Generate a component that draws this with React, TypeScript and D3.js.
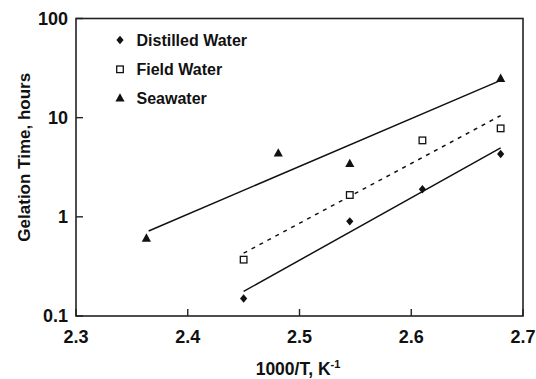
import React from 'react'
import * as d3 from 'd3'

// measured points (1000/T, gelation time in hours)
const distilledX = [2.45, 2.545, 2.61, 2.68]
const distilledY = [0.15, 0.9, 1.9, 4.3]
const fieldX = [2.45, 2.545, 2.61, 2.68]
const fieldY = [0.37, 1.66, 5.9, 7.8]
const seaX = [2.363, 2.481, 2.545, 2.68]
const seaY = [0.61, 4.4, 3.45, 24.9]

// fitted trend lines, end points
const distilledFitX = [2.45, 2.68]
const distilledFitY = [0.177, 4.95]
const fieldFitX = [2.45, 2.68]
const fieldFitY = [0.43, 10.5]
const seaFitX = [2.365, 2.68]
const seaFitY = [0.72, 23.8]

const xTicks = [2.3, 2.4, 2.5, 2.6, 2.7]
const yTicks = [0.1, 1, 10, 100]
const legendLabels = ['Distilled Water', 'Field Water', 'Seawater']

const W = 536
const H = 379
const FONT = '"Liberation Sans", Arial, Helvetica, sans-serif'
const INK = '#111'

export default function App() {
  const left = 76
  const right = 523
  const top = 18.5
  const bottom = 316

  const x = d3.scaleLinear().domain([2.3, 2.7]).range([left, right])
  const y = d3.scaleLog().domain([0.1, 100]).range([bottom, top])

  const line = d3
    .line<[number, number]>()
    .x(d => x(d[0]))
    .y(d => y(d[1]))

  const pairs = (xs: number[], ys: number[]) => xs.map((v, i) => [v, ys[i]] as [number, number])

  const diamond = (cx: number, cy: number, key: any) => (
    <path
      key={key}
      d={`M${cx},${cy - 4.2}L${cx + 3.6},${cy}L${cx},${cy + 4.2}L${cx - 3.6},${cy}Z`}
      fill={INK}
    />
  )
  const square = (cx: number, cy: number, key: any) => (
    <rect key={key} x={cx - 3.3} y={cy - 3.3} width={6.6} height={6.6} fill="#fff" stroke={INK} strokeWidth={1.3} />
  )
  const triangle = (cx: number, cy: number, key: any) => (
    <path key={key} d={`M${cx},${cy - 4.8}L${cx + 4.6},${cy + 3.6}L${cx - 4.6},${cy + 3.6}Z`} fill={INK} />
  )

  const legendMarks = [diamond, square, triangle]
  const legendY = [40, 69.3, 98]

  return (
    <svg
      width={W}
      height={H}
      style={{position: 'absolute', left: 0, top: 0, background: '#fff'}}
      fontFamily={FONT}
      fontWeight="bold"
    >
      <rect x={0} y={0} width={W} height={H} fill="#fff" />

      {/* fit lines */}
      <path d={line(pairs(seaFitX, seaFitY)) || ''} fill="none" stroke={INK} strokeWidth={1.5} />
      <path
        d={line(pairs(fieldFitX, fieldFitY)) || ''}
        fill="none"
        stroke={INK}
        strokeWidth={1.5}
        strokeDasharray="4,5"
      />
      <path d={line(pairs(distilledFitX, distilledFitY)) || ''} fill="none" stroke={INK} strokeWidth={1.5} />

      {/* data points */}
      {distilledX.map((v, i) => diamond(x(v), y(distilledY[i]), 'd' + i))}
      {fieldX.map((v, i) => square(x(v), y(fieldY[i]), 'f' + i))}
      {seaX.map((v, i) => triangle(x(v), y(seaY[i]), 's' + i))}

      {/* frame */}
      <rect x={left} y={top} width={right - left} height={bottom - top} fill="none" stroke="#222" strokeWidth={1.6} />

      {/* x axis */}
      {xTicks.map(t => (
        <g key={'x' + t}>
          <line x1={x(t)} x2={x(t)} y1={bottom} y2={bottom - 7} stroke="#222" strokeWidth={1.4} />
          <text x={x(t)} y={343} textAnchor="middle" fontSize={18} fontWeight="bold" fill={INK}>
            {t.toFixed(1)}
          </text>
        </g>
      ))}

      {/* y axis */}
      {yTicks.map(t => (
        <g key={'y' + t}>
          <line x1={left} x2={left + 7} y1={y(t)} y2={y(t)} stroke="#222" strokeWidth={1.4} />
          <text x={68} y={y(t)} dy="0.36em" textAnchor="end" fontSize={18} fontWeight="bold" fill={INK}>
            {String(t)}
          </text>
        </g>
      ))}

      {/* axis titles */}
      <text x={298} y={375} textAnchor="middle" fontSize={17.5} fill={INK}>
        1000/T, K
        <tspan dy={-7} fontSize={11}>
          -1
        </tspan>
      </text>
      <text
        transform={`translate(30,${(top + bottom) / 2 - 10}) rotate(-90)`}
        textAnchor="middle"
        fontSize={17}
        fill={INK}
      >
        Gelation Time, hours
      </text>

      {/* legend */}
      {legendLabels.map((name, i) => (
        <g key={name}>
          {legendMarks[i](120, legendY[i], 'lm' + i)}
          <text x={136.5} y={legendY[i]} dy="0.36em" fontSize={16} fill={INK}>
            {name}
          </text>
        </g>
      ))}
    </svg>
  )
}
